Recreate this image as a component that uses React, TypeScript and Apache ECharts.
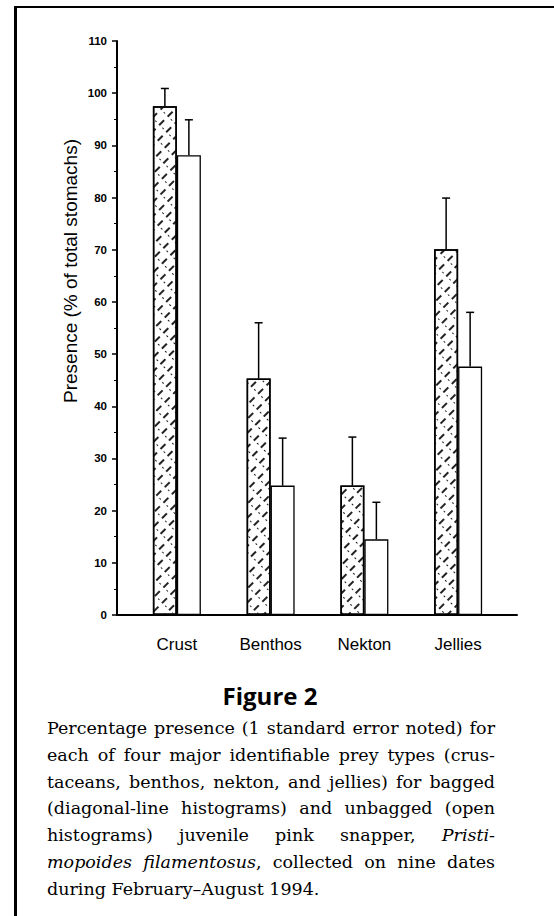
import React, { useEffect, useRef } from "react";
import * as echarts from "echarts";

const categories = ["Crust", "Benthos", "Nekton", "Jellies"];
const bagged = [97.5, 45.3, 24.8, 70.1];
const baggedSE = [3.4, 10.7, 9.3, 9.8];
const unbagged = [88.1, 24.8, 14.5, 47.6];
const unbaggedSE = [6.8, 9.1, 7.1, 10.4];
const yMin = 0;
const yMax = 110;
const yInterval = 10;
const yTitle = "Presence (% of total stomachs)";
const figureTitle = "Figure 2";
const captionLines = [
  "Percentage presence (1 standard error noted) for",
  "each of four major identifiable prey types (crus-",
  "taceans, benthos, nekton, and jellies) for bagged",
  "(diagonal-line histograms) and unbagged (open",
  "histograms) juvenile pink snapper, *Pristi-*",
  "*mopoides filamentosus*, collected on nine dates",
  "during February\u2013August 1994.",
];

const BAR_W = 24;
const CAP_FONT = '"DejaVu Serif"';
const CAP_SIZE = 17.5;

type Seg = { t: string; i: boolean };

function parseLine(line: string): Seg[][] {
  const words: Seg[][] = [];
  let italic = false;
  for (const raw of line.split(" ")) {
    const segs: Seg[] = [];
    let cur = "";
    for (const ch of raw) {
      if (ch === "*") {
        if (cur) segs.push({ t: cur, i: italic });
        cur = "";
        italic = !italic;
      } else cur += ch;
    }
    if (cur) segs.push({ t: cur, i: italic });
    words.push(segs);
  }
  return words;
}

function buildCaption(): any[] {
  const canvas = document.createElement("canvas");
  const ctx = canvas.getContext("2d")!;
  const left = 47;
  const right = 495;
  const y0 = 728;
  const dy = 26.8;
  const els: any[] = [];
  captionLines.forEach((line, li) => {
    const words = parseLine(line);
    const widths = words.map((w) =>
      w.map((s) => {
        ctx.font = `${s.i ? "italic " : ""}${CAP_SIZE}px ${CAP_FONT}`;
        return ctx.measureText(s.t).width;
      })
    );
    const total = widths.reduce((a, w) => a + w.reduce((b, c) => b + c, 0), 0);
    ctx.font = `${CAP_SIZE}px ${CAP_FONT}`;
    const space = ctx.measureText(" ").width;
    const last = li === captionLines.length - 1;
    const gap = last || words.length < 2 ? space : (right - left - total) / (words.length - 1);
    let x = left;
    words.forEach((w, wi) => {
      w.forEach((s, si) => {
        els.push({
          type: "text",
          x,
          y: y0 + li * dy,
          silent: true,
          style: {
            text: s.t,
            fontSize: CAP_SIZE,
            fontFamily: CAP_FONT,
            fontStyle: s.i ? "italic" : "normal",
            fill: "#000",
            textAlign: "left",
            textVerticalAlign: "middle",
          },
        });
        x += widths[wi][si];
      });
      x += gap;
    });
  });
  return els;
}

function errRender(offset: number) {
  return (params: any, api: any) => {
    const i = api.value(0);
    const v = api.value(1);
    const e = api.value(2);
    const p0 = api.coord([i, v]);
    const p1 = api.coord([i, v + e]);
    const x = p0[0] + offset;
    return {
      type: "group",
      children: [
        { type: "line", shape: { x1: x, y1: p0[1], x2: x, y2: p1[1] }, style: { stroke: "#000", lineWidth: 1.5 } },
        { type: "line", shape: { x1: x - 4, y1: p1[1], x2: x + 4, y2: p1[1] }, style: { stroke: "#000", lineWidth: 1.5 } },
      ],
    };
  };
}

export default function App() {
  const ref = useRef<HTMLDivElement>(null);
  useEffect(() => {
    const chart = echarts.init(ref.current!, null, { renderer: "svg" });
    const option: any = {
      animation: false,
      backgroundColor: "#fff",
      grid: [
        { left: 130, right: 49, top: 41, bottom: 301 },
        { left: 117, right: 37, top: 41, bottom: 301 },
      ],
      xAxis: [
        {
          type: "category",
          gridIndex: 0,
          data: categories,
          axisLine: { show: false },
          axisTick: { show: false },
          axisLabel: { color: "#000", fontSize: 17, fontFamily: "Liberation Sans", margin: 21 },
        },
        {
          type: "value",
          gridIndex: 1,
          min: 0,
          max: 1,
          axisLine: { show: true, onZero: false, lineStyle: { color: "#000", width: 2 } },
          axisTick: { show: false },
          axisLabel: { show: false },
          splitLine: { show: false },
        },
      ],
      yAxis: [
        { type: "value", gridIndex: 0, min: yMin, max: yMax, interval: yInterval, show: false },
        {
          type: "value",
          gridIndex: 1,
          min: yMin,
          max: yMax,
          interval: yInterval,
          axisLine: { show: true, lineStyle: { color: "#000", width: 2 } },
          axisTick: { show: true, inside: false, length: 5, lineStyle: { color: "#000", width: 1.5 } },
          minorTick: { show: true, splitNumber: 2, length: 3, lineStyle: { color: "#000", width: 1 } },
          axisLabel: { color: "#000", fontSize: 11.5, fontWeight: "bold", fontFamily: "Liberation Sans", margin: 10 },
          splitLine: { show: false },
        },
      ],
      series: [
        {
          name: "Bagged",
          type: "bar",
          xAxisIndex: 0,
          yAxisIndex: 0,
          data: bagged,
          barWidth: BAR_W,
          barGap: "0%",
          itemStyle: {
            color: "#fff",
            borderColor: "#000",
            borderWidth: 1.5,
            decal: {
              symbol: "rect",
              symbolSize: 1,
              color: "#222",
              backgroundColor: "#fff",
              dashArrayX: [[7, 5], [1, 11]],
              dashArrayY: [1.3, 3, 1.2, 3],
              rotation: -Math.PI / 4,
            },
          },
        },
        {
          name: "Unbagged",
          type: "bar",
          xAxisIndex: 0,
          yAxisIndex: 0,
          data: unbagged,
          barWidth: BAR_W,
          barGap: "0%",
          itemStyle: { color: "#fff", borderColor: "#000", borderWidth: 1.3 },
        },
        {
          type: "custom",
          xAxisIndex: 0,
          yAxisIndex: 0,
          z: 5,
          renderItem: errRender(-BAR_W / 2),
          encode: { x: 0, y: 1 },
          data: bagged.map((v, i) => [i, v, baggedSE[i]]),
        },
        {
          type: "custom",
          xAxisIndex: 0,
          yAxisIndex: 0,
          z: 5,
          renderItem: errRender(BAR_W / 2),
          encode: { x: 0, y: 1 },
          data: unbagged.map((v, i) => [i, v, unbaggedSE[i]]),
        },
      ],
      graphic: [
        { type: "line", silent: true, shape: { x1: 15.5, y1: 6, x2: 15.5, y2: 916 }, style: { stroke: "#000", lineWidth: 3 } },
        { type: "line", silent: true, shape: { x1: 14, y1: 7, x2: 554, y2: 7 }, style: { stroke: "#000", lineWidth: 2 } },
        {
          type: "text",
          x: 70,
          y: 271,
          rotation: Math.PI / 2,
          silent: true,
          style: {
            text: yTitle,
            fontSize: 19,
            fontFamily: "Liberation Sans",
            fill: "#000",
            textAlign: "center",
            textVerticalAlign: "middle",
          },
        },
        {
          type: "text",
          x: 270,
          y: 695,
          silent: true,
          style: {
            text: figureTitle,
            fontSize: 24,
            fontWeight: "bold",
            fontFamily: "Open Sans",
            fill: "#000",
            textAlign: "center",
            textVerticalAlign: "middle",
          },
        },
        ...buildCaption(),
      ],
    };
    chart.setOption(option);
    return () => chart.dispose();
  }, []);
  return <div ref={ref} style={{ position: "absolute", left: 0, top: 0, width: 554, height: 916 }} />;
}
